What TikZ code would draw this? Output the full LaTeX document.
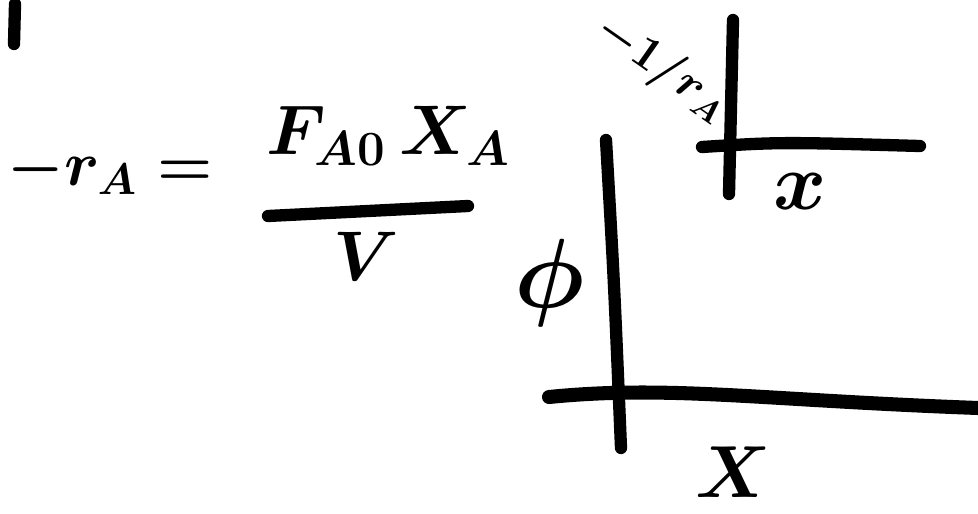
\RequirePackage{fix-cm}
\documentclass[tikz,border=0pt]{standalone}
\begin{document}
\begin{tikzpicture}[x=0.02cm,y=-0.02cm,line width=7pt,line cap=round,
  hand/.style={inner sep=0pt},
  big/.style={hand,font=\fontsize{40}{48}\selectfont\boldmath}]
\useasboundingbox (0,0) rectangle (978,514);

\coordinate (tick0) at (15,4);
\coordinate (tick1) at (14,44);
\draw (tick0) -- (tick1);

\node[hand, font=\fontsize{36}{44}\selectfont\boldmath] (lhs) at (110,170) {$-r_A =$};
\node[big] (num) at (388,136) {$F_{A0}\,X_A$};
\node[big] (den) at (366,256) {$V$};
\coordinate (bar0) at (268,216);
\coordinate (bar1) at (468,206);
\draw (bar0) -- (bar1);

\coordinate (sv0) at (733,20);
\coordinate (sv1) at (729,194);
\coordinate (sh0) at (702,147);
\coordinate (sh1) at (920,146);
\draw (sv0) -- (sv1);
\draw (sh0) .. controls (780,142) .. (sh1);
\node[hand, rotate=-35, font=\fontsize{27}{32}\selectfont\boldmath] (sylab) at (662,68) {$-1/r_A$};
\node[hand, font=\fontsize{46}{54}\selectfont\boldmath] (sxlab) at (800,192) {$x$};

\coordinate (bv0) at (606,140);
\coordinate (bv1) at (621,448);
\coordinate (bh0) at (549,397);
\coordinate (bh1) at (978,408);
\draw (bv0) .. controls (614,280) .. (bv1);
\draw[line width=8pt] (bh0) .. controls (670,385) and (760,400) .. (bh1);
\node[hand, font=\fontsize{56}{64}\selectfont\boldmath] (philab) at (550,283) {$\phi$};
\node[hand, font=\fontsize{42}{50}\selectfont\boldmath] (xlab) at (733,472) {$X$};
\end{tikzpicture}
\end{document}
